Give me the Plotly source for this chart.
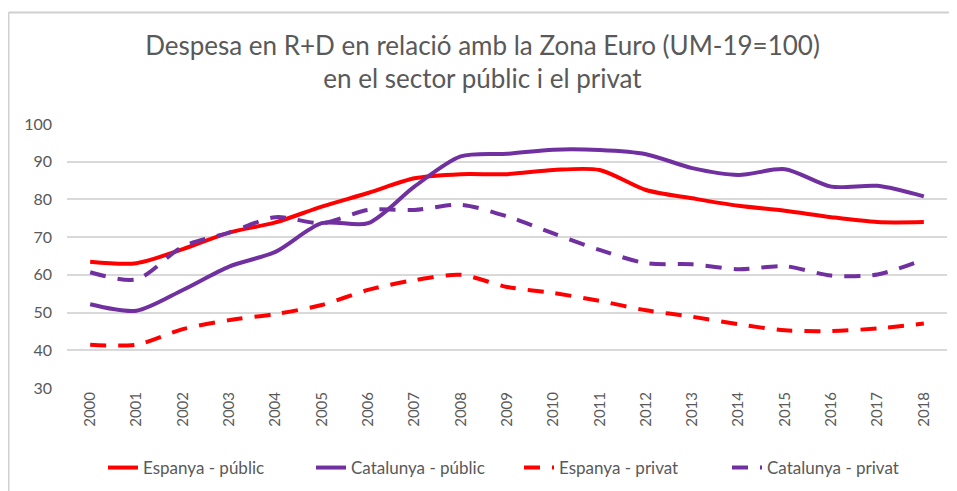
import plotly.graph_objects as go

years = [str(y) for y in range(2000, 2019)]
espanya_public = [63.5, 63.1, 66.8, 71.2, 73.9, 78.1, 81.7, 85.6, 86.7, 86.7, 87.8, 87.8, 82.5, 80.3, 78.3, 77.0, 75.3, 74.0, 74.0]
catalunya_public = [52.2, 50.5, 56.0, 62.2, 66.1, 73.7, 73.7, 83.4, 91.4, 92.1, 93.2, 93.1, 92.0, 88.3, 86.5, 88.0, 83.4, 83.6, 80.8]
espanya_privat = [41.5, 41.5, 45.6, 48.0, 49.6, 52.0, 56.0, 58.6, 60.0, 56.8, 55.2, 53.1, 50.6, 48.9, 46.9, 45.3, 45.1, 45.8, 47.1]
catalunya_privat = [60.7, 58.8, 67.5, 71.2, 75.3, 73.7, 77.2, 77.2, 78.6, 75.5, 71.0, 66.6, 63.1, 62.8, 61.5, 62.3, 59.8, 60.1, 64.1]

RED = "#FF0000"
PURPLE = "#7030A0"
GRAY_TXT = "#595959"
FONT = "Lato, Liberation Sans, Arial, sans-serif"
DASH = "16px,12px"

series = [
    ("Espanya - públic", espanya_public, RED, "solid"),
    ("Catalunya - públic", catalunya_public, PURPLE, "solid"),
    ("Espanya - privat", espanya_privat, RED, DASH),
    ("Catalunya - privat", catalunya_privat, PURPLE, DASH),
]

fig = go.Figure()
for name, vals, col, dash in series:
    fig.add_trace(go.Scatter(
        x=years, y=vals, name=name, mode="lines",
        line=dict(color=col, width=4, dash=dash, shape="spline", smoothing=0.8),
    ))

# page body has an 8px margin; figure is sized to fill the rest of the window
W, H = 949, 483
fig.update_layout(
    width=W, height=H,
    margin=dict(l=59, r=10, t=116, b=103),
    paper_bgcolor="white", plot_bgcolor="white",
    font=dict(family=FONT, color=GRAY_TXT, size=15),
    title=dict(
        text="Despesa en R+D en relació amb la Zona Euro (UM-19=100)<br>en el sector públic i el privat",
        x=0.5, xanchor="center", xref="container",
        y=0.9035, yanchor="top",
        font=dict(family=FONT, size=26, color=GRAY_TXT),
    ),
    xaxis=dict(
        type="category", range=[-0.5, 18.5], tickangle=-90, showgrid=False, showline=False,
        ticks="", tickfont=dict(size=15, color=GRAY_TXT),
    ),
    yaxis=dict(
        range=[30, 100], dtick=10, showgrid=True, gridcolor="#D9D9D9", gridwidth=1.5,
        zeroline=False, showline=False, ticks="", tickfont=dict(size=16, color=GRAY_TXT),
        ticklabelstandoff=14,
    ),
    legend=dict(
        orientation="h", x=95 / W, xanchor="left", xref="container",
        y=1 - 460 / H, yref="container", yanchor="middle",
        font=dict(size=17, color=GRAY_TXT), bgcolor="rgba(0,0,0,0)",
        entrywidth=163, entrywidthmode="pixels",
    ),
    showlegend=True,
)

# chart-area border (top and left visible)
fig.add_shape(type="line", xref="paper", yref="paper", x0=-0.0665, x1=1.02, y0=1.4226, y1=1.4226,
              line=dict(color="#D0D0D0", width=2))
fig.add_shape(type="line", xref="paper", yref="paper", x0=-0.0665, x1=-0.0665, y0=1.4226, y1=-0.4,
              line=dict(color="#D0D0D0", width=2))

fig.write_html("out.html")
